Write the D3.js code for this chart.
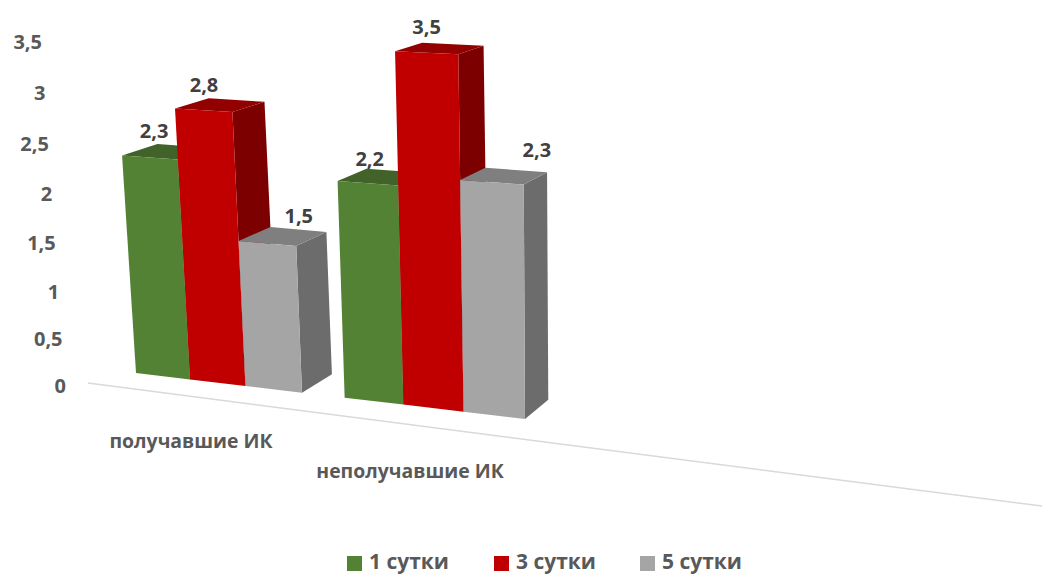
<!DOCTYPE html>
<html>
<head>
<meta charset="utf-8">
<script src="https://cdn.jsdelivr.net/npm/d3@7/dist/d3.min.js"></script>
<style>
  html, body { margin: 0; padding: 0; background: #fff; }
  svg { display: block; }
  text { font-family: "Open Sans", "Noto Sans", sans-serif; font-weight: 700; }
</style>
</head>
<body>
<svg id="chart" width="1042" height="574"></svg>
<script>
const categories = ["получавшие ИК", "неполучавшие ИК"];
const seriesNames = ["1 сутки", "3 сутки", "5 сутки"];
const seriesColors = ["#548235", "#C00000", "#A5A5A5"];
const seriesTops = ["#41632A", "#920000", "#7F7F7F"];
const seriesSides = ["#41632A", "#7C0000", "#6C6C6C"];
const day1 = [2.3, 2.2];
const day3 = [2.8, 3.5];
const day5 = [1.5, 2.3];
const yTicks = [0, 0.5, 1, 1.5, 2, 2.5, 3, 3.5];
const seriesValues = [day1, day3, day5];

const svg = d3.select("#chart");
const comma = v => String(v).replace(".", ",");

// Floor position along the category axis, in bar widths, with perspective.
const groupGap = 0.74;
const unitX = u => (52.1 * u + 136) / (1 - 0.0107 * u);
const depthScale = u => 1 / (1 - 0.0107 * u);
const floorY = d3.scaleLinear().domain([136, 525]).range([373, 419]);
const valueHeight = d3.scaleLinear().domain([0, 2.3, 2.8, 3.5]).range([0, 217.5, 268, 335.5]);

// Projects (axis position, value, depth 0..1) to the page.
function project(u, v, d) {
  const bx = unitX(u);
  const h = valueHeight(v) * depthScale(u);
  const x = bx - (560 - bx) * h / 6625;
  const y = floorY(bx) - h;
  return [x + d * (39 - 0.03 * x), y - d * (7 + 0.029 * y)];
}

const line = d3.line();
const faceGroup = svg.append("g");

// Floor line under the bars.
svg.insert("line", "g")
  .attr("x1", 88).attr("y1", 383).attr("x2", 1042).attr("y2", 506)
  .attr("stroke", "#D9D9D9").attr("stroke-width", 1.5);

categories.forEach((cat, g) => {
  seriesNames.forEach((name, s) => {
    const v = seriesValues[s][g];
    const u0 = g * (3 + groupGap) + s;
    const u1 = u0 + 1;
    const bar = faceGroup.append("g");
    const poly = (pts, fill) => bar.append("path")
      .attr("d", line(pts) + "Z").attr("fill", fill);
    // Right side, top and front faces, back to front.
    poly([project(u1, 0, 0), project(u1, v, 0), project(u1, v, 1), project(u1, 0, 1)], seriesSides[s]);
    poly([project(u0, v, 0), project(u1, v, 0), project(u1, v, 1), project(u0, v, 1)], seriesTops[s]);
    poly([project(u0, 0, 0), project(u1, 0, 0), project(u1, v, 0), project(u0, v, 0)], seriesColors[s]);
  });
});

// Value labels sit above each bar's top face.
const labelShift = [[[-13, -21], [-16, -20], [16, -20]], [[-12, -18], [-13, -21], [33, -26]]];
categories.forEach((cat, g) => {
  seriesNames.forEach((name, s) => {
    const v = seriesValues[s][g];
    const u0 = g * (3 + groupGap) + s;
    const c = project(u0 + 0.5, v, 0.5);
    svg.append("text")
      .attr("x", c[0] + labelShift[g][s][0])
      .attr("y", c[1] + labelShift[g][s][1])
      .attr("dy", "0.35em")
      .attr("text-anchor", "middle")
      .attr("font-size", 20)
      .attr("fill", "#404040")
      .text(comma(v));
  });
});

// Value axis labels lean with the back wall; no axis line is drawn.
const yAxisScale = d3.scaleLinear().domain([0, 1, 2, 3, 3.5]).range([386, 292, 194, 93, 42]);
const yAxisRight = d3.scaleLinear().domain([0, 3.5]).range([66, 42]);
svg.append("g").selectAll("text").data(yTicks).join("text")
  .attr("x", d => yAxisRight(d))
  .attr("y", d => yAxisScale(d))
  .attr("dy", "0.35em")
  .attr("text-anchor", "end")
  .attr("font-size", 20)
  .attr("fill", "#595959")
  .text(comma);

// Category labels follow the slope of the floor.
const catScale = d3.scaleOrdinal().domain(categories).range([[191, 441], [410, 471]]);
svg.append("g").selectAll("text").data(categories).join("text")
  .attr("x", d => catScale(d)[0])
  .attr("y", d => catScale(d)[1])
  .attr("dy", "0.35em")
  .attr("text-anchor", "middle")
  .attr("font-size", 19.4)
  .attr("fill", "#595959")
  .text(d => d);

// Legend.
const legendScale = d3.scaleOrdinal().domain(seriesNames).range([347, 494, 640]);
const legend = svg.append("g").selectAll("g").data(seriesNames).join("g")
  .attr("transform", d => `translate(${legendScale(d)},556)`);
legend.append("rect").attr("width", 15).attr("height", 15)
  .attr("fill", (d, i) => seriesColors[i]);
legend.append("text")
  .attr("x", 22).attr("y", 6).attr("dy", "0.35em")
  .attr("font-size", 21)
  .attr("fill", "#595959")
  .text(d => d);
</script>
</body>
</html>
